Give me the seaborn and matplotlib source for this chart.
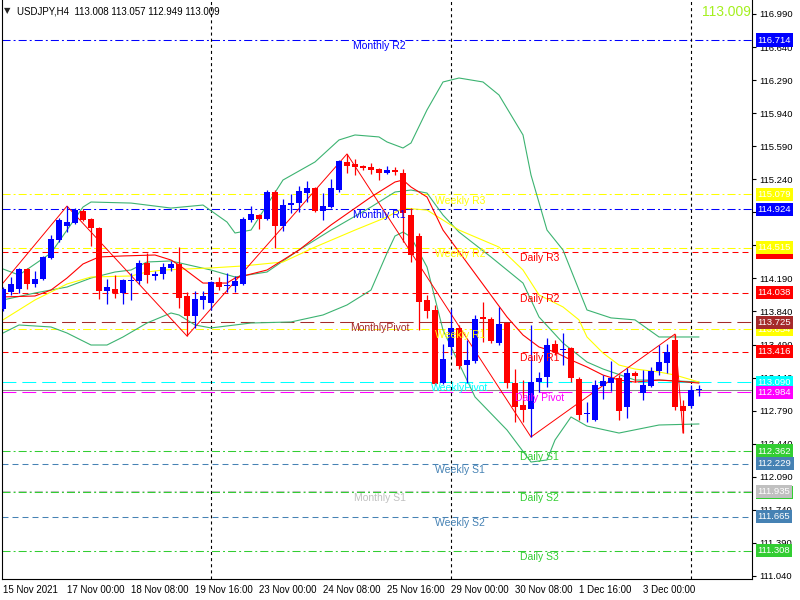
import matplotlib
matplotlib.use("Agg")
import matplotlib.pyplot as plt
import matplotlib.transforms as mtransforms
import numpy as np
import pandas as pd
import seaborn as sns

# ---------------- data ----------------
opens = [113.867,114.046,114.078,114.290,114.131,114.184,114.406,114.596,114.745,114.776,
         114.904,114.819,114.724,114.057,114.078,114.036,114.163,114.163,114.353,114.216,
         114.237,114.301,114.343,114.004,113.793,113.962,113.930,114.152,114.110,114.110,
         114.131,114.808,114.861,114.819,115.105,114.745,114.967,114.988,115.094,115.147,
         114.904,114.946,115.126,115.423,115.402,115.380,115.370,115.349,115.306,115.338,
         115.306,114.861,114.639,113.962,113.856,113.082,113.464,113.666,113.273,113.315,
         113.782,113.761,113.506,113.718,113.082,112.850,112.808,113.093,113.146,113.496,
         113.432,113.453,113.125,112.755,112.691,113.051,113.082,113.135,112.829,113.188,
         112.977,113.051,113.209,113.294,113.538,112.840,112.840,113.008]
highs = [114.099,114.205,114.301,114.301,114.269,114.428,114.649,114.829,114.956,114.935,
         114.925,114.829,114.734,114.184,114.226,114.184,114.248,114.385,114.459,114.269,
         114.353,114.375,114.522,114.046,114.057,114.057,114.163,114.205,114.248,114.216,
         114.840,114.956,114.872,115.126,115.126,115.031,115.084,115.168,115.221,115.158,
         115.094,115.242,115.444,115.508,115.455,115.391,115.412,115.359,115.380,115.370,
         115.349,114.935,114.671,114.015,113.909,113.496,113.867,113.697,113.538,113.803,
         113.941,113.782,113.888,113.729,113.231,113.114,113.697,113.199,113.559,113.538,
         113.612,113.464,113.146,112.882,113.114,113.167,113.315,113.167,113.241,113.209,
         113.220,113.252,113.485,113.496,113.601,112.903,113.061,113.057]
lows = [113.846,114.015,114.036,114.078,114.099,114.173,114.396,114.575,114.681,114.766,
        114.798,114.533,113.972,113.920,113.983,113.920,113.962,114.131,114.141,114.173,
        114.184,114.269,113.877,113.580,113.666,113.867,113.856,114.067,114.046,114.046,
        114.120,114.787,114.713,114.808,114.512,114.692,114.882,114.893,114.999,114.893,
        114.808,114.935,115.105,115.306,115.285,115.338,115.296,115.232,115.296,115.285,
        114.575,114.364,113.644,113.772,113.061,113.072,113.379,113.231,113.082,113.294,
        113.517,113.506,113.485,113.030,112.670,112.670,112.511,112.988,113.040,113.379,
        113.273,113.093,112.691,112.670,112.681,112.914,112.999,112.691,112.712,113.093,
        112.903,113.040,113.167,113.188,112.797,112.553,112.818,112.949]
closes = [114.078,114.131,114.290,114.131,114.184,114.417,114.607,114.808,114.787,114.914,
          114.808,114.724,114.057,114.099,114.036,114.173,114.173,114.353,114.226,114.237,
          114.311,114.343,113.983,113.793,113.972,114.004,114.152,114.099,114.120,114.163,
          114.819,114.872,114.819,115.105,114.745,114.967,114.988,115.115,115.147,114.904,
          114.956,115.147,115.434,115.380,115.370,115.359,115.338,115.306,115.338,115.317,
          114.882,114.438,113.941,113.846,113.072,113.337,113.666,113.263,113.326,113.761,
          113.761,113.527,113.708,113.082,112.829,112.797,113.093,113.135,113.485,113.411,
          113.443,113.135,112.744,112.765,113.061,113.104,113.135,112.787,113.188,113.157,
          113.061,113.209,113.305,113.411,112.829,112.787,113.009,113.009]

# Bollinger bands (at bar indices)
bb_up_bars = [0,2,6,8,10,11,16,21,25,28,29,31,33,35,39,42,44,47,48,50,51,53,55,57,60,62,65,66,68,70,72,73,76,79,82,87]
bb_up_vals = [114.290,114.226,114.459,114.702,114.946,114.999,114.988,114.935,114.967,114.787,114.671,114.702,
              114.967,115.232,115.423,115.656,115.709,115.688,115.635,115.571,115.624,115.974,116.270,116.312,
              116.270,116.132,115.709,115.285,114.702,114.491,114.067,113.856,113.772,113.751,113.570,113.570]
bb_mid_bars = [0,4,8,11,14,16,18,21,26,29,33,37,41,46,49,51,53,55,57,61,65,67,70,73,75,79,82,87]
bb_mid_vals = [113.962,114.036,114.099,114.194,114.258,114.279,114.364,114.375,114.279,114.205,114.258,114.491,
               114.702,114.946,115.105,115.126,115.094,114.861,114.681,114.417,114.141,113.782,113.506,113.305,
               113.231,113.114,113.114,113.093]
bb_low_bars = [0,2,6,8,11,13,15,18,21,22,24,26,31,36,40,43,46,48,49,50,51,53,55,59,63,66,68,69,71,73,77,82,87]
bb_low_vals = [113.612,113.697,113.676,113.612,113.485,113.485,113.570,113.718,113.824,113.803,113.697,113.666,
               113.718,113.729,113.803,113.909,114.067,114.459,114.639,114.681,114.628,114.311,113.644,112.935,
               112.585,112.246,112.268,112.479,112.723,112.627,112.553,112.638,112.649]
# Moving averages
ma_red_bars = [0,4,6,8,10,12,15,19,21,22,25,28,29,33,37,41,46,49,50,51,53,55,63,65,67,69,71,73,75,77,79,82,84,87]
ma_red_vals = [113.994,114.004,114.067,114.194,114.343,114.417,114.428,114.438,114.385,114.332,114.141,114.141,
               114.194,114.279,114.491,114.756,115.052,115.211,115.232,115.158,115.052,114.702,113.782,113.591,
               113.464,113.411,113.326,113.252,113.167,113.114,113.093,113.114,113.104,113.082]
ma_yel_bars = [0,4,8,11,16,18,20,26,30,35,39,44,48,50,53,57,62,65,67,70,72,73,75,77,79,82,84,87]
ma_yel_vals = [113.751,113.962,114.131,114.205,114.216,114.258,114.279,114.301,114.322,114.364,114.522,114.702,
               114.840,114.935,114.914,114.702,114.522,114.279,114.015,113.888,113.751,113.570,113.400,113.273,
               113.231,113.199,113.167,113.093]
# ZigZag
zz_bars = [0, 8, 23, 43, 66, 84, 85]
zz_vals = [114.141, 114.956, 113.580, 115.508, 112.511, 113.601, 112.553]

# Pivot levels
level_names = ['Monthly R2','Weekly R3','Monthly R1','Weekly R2','Daily R3','Daily R2','MonthlyPivot',
               'Weekly R1','Daily R1','WeeklyPivot','Daily Pivot','Daily S1','Weekly S1','Monthly S1',
               'Daily S2','Weekly S2','Daily S3']
level_values = [116.714,115.079,114.924,114.515,114.470,114.038,113.725,113.654,113.416,113.090,
                112.984,112.362,112.229,111.935,111.925,111.665,111.308]
level_colors = ['#0000FF','#FFFF00','#0000FF','#FFFF00','#FF0000','#FF0000','#A52A2A','#FFFF00','#FF0000',
                '#00FFFF','#FF00FF','#32CD32','#4682B4','#C0C0C0','#32CD32','#4682B4','#32CD32']

y_ticks = [116.990,116.640,116.290,115.940,115.590,115.240,114.890,114.540,114.190,113.840,
           113.490,113.140,112.790,112.440,112.090,111.740,111.390,111.040]
x_tick_bars = [0,8,16,24,32,40,48,56,64,72,80]
x_tick_labels = ['15 Nov 2021','17 Nov 00:00','18 Nov 08:00','19 Nov 16:00','23 Nov 00:00','24 Nov 08:00',
                 '25 Nov 16:00','29 Nov 00:00','30 Nov 08:00','1 Dec 16:00','3 Dec 00:00']
separator_bars = [26, 56, 86]
title_text = 'USDJPY,H4  113.008 113.057 112.949 113.009'
bid_price = 113.009

# ---------------- style ----------------
sns.set_style("white")
plt.rcParams['font.family'] = ['Liberation Sans', 'DejaVu Sans']
plt.rcParams['lines.scale_dashes'] = False

fig = plt.figure(figsize=(8, 6), dpi=100)
ax = fig.add_axes([2/800, 21/600, 750/800, 579/600])
ax.set_facecolor('white')
ax.set_xlim(-0.125, 93.625)
ax.set_ylim(111.0075, 117.138)

dashdot = (0, (5.8, 2.2, 1.4, 2.2))
dashed = (0, (4.3, 2.9))
longdash = (0, (10, 4.3))
style_map = {'Monthly R2': dashdot, 'Monthly R1': dashdot, 'Monthly S1': dashdot, 'MonthlyPivot': longdash,
             'Weekly R3': dashdot, 'Weekly R2': dashdot, 'Weekly R1': dashdot, 'WeeklyPivot': longdash,
             'Weekly S1': dashed, 'Weekly S2': dashed,
             'Daily R3': dashed, 'Daily R2': dashed, 'Daily R1': dashed, 'Daily Pivot': longdash,
             'Daily S1': dashdot, 'Daily S2': dashdot, 'Daily S3': dashdot}

# level lines
line_order = [n for n in level_names if n != 'Daily S2'] + ['Daily S2']
for n in line_order:
    i = level_names.index(n)
    ax.axhline(level_values[i], color=level_colors[i], lw=0.75, ls=style_map[n], zorder=1)

# bid line
ax.axhline(bid_price, color='#8C8C8C', lw=0.75, zorder=1.2)

# separators
for b in separator_bars:
    ax.axvline(b, color='black', lw=0.8, ls=(0, (2.2, 2.2)), zorder=1.5)

# indicators with seaborn
def sline(bx, vals, color, lw=0.8, z=2):
    df = pd.DataFrame({'bar': bx, 'price': vals})
    sns.lineplot(data=df, x='bar', y='price', ax=ax, color=color, lw=lw, estimator=None,
                 sort=False, zorder=z)

sline(bb_up_bars, bb_up_vals, '#3CB371')
sline(bb_mid_bars, bb_mid_vals, '#3CB371')
sline(bb_low_bars, bb_low_vals, '#3CB371')
sline(ma_yel_bars, ma_yel_vals, '#FFFF00')
sline(ma_red_bars, ma_red_vals, '#FF0000')
sline(zz_bars, zz_vals, '#FF0000', lw=0.7)

# candles
idx = np.arange(len(opens))
o = np.array(opens); c = np.array(closes); h = np.array(highs); l = np.array(lows)
cols = np.where(c >= o, '#0000FF', '#FF0000')
ax.vlines(idx, l, h, colors=cols, lw=0.9, zorder=3)
bottoms = np.minimum(o, c)
heights = np.maximum(np.abs(c - o), 0.011)
ax.bar(idx, heights, bottom=bottoms, width=0.68, color=cols, edgecolor='none', zorder=3.5)

# level text labels inside chart
center_map = {'Monthly': 47.1, 'Weekly': 57.1, 'Daily': 67.1}
for n, v, col in zip(level_names, level_values, level_colors):
    key = 'Monthly' if n.startswith('Monthly') else ('Weekly' if n.startswith('Weekly') else 'Daily')
    ax.text(center_map[key], v - 0.012, n, color=col, fontsize=7.5, ha='center', va='top', zorder=4)

# axes styling
for s in ['left', 'right', 'bottom']:
    ax.spines[s].set_visible(True)
    ax.spines[s].set_color('black')
    ax.spines[s].set_linewidth(0.8)
ax.spines['top'].set_visible(False)
ax.yaxis.tick_right()
ax.set_yticks(y_ticks)
ax.set_yticklabels([f'{t:.3f}' for t in y_ticks])
ax.tick_params(axis='y', which='both', right=True, left=False, direction='out', length=3,
               width=0.8, pad=2.5, labelsize=6.8, colors='black')
ax.set_xticks(x_tick_bars)
ax.set_xticklabels(x_tick_labels, ha='left')
ax.tick_params(axis='x', direction='out', length=3, width=0.8, pad=1.5, labelsize=7, colors='black')
for lab in ax.get_xticklabels():
    lab.set_horizontalalignment('left')
ax.set_xlabel('')
ax.set_ylabel('')

# right axis value boxes
trans = mtransforms.blended_transform_factory(ax.transAxes, ax.transData)
box_order = ['Daily R3', 'Weekly R1', 'Daily S2'] + [n for n in level_names if n not in ('Daily R3', 'Weekly R1', 'Daily S2')]
for k, n in enumerate(box_order):
    i = level_names.index(n)
    ax.text(1.0075, level_values[i], f'{level_values[i]:.3f}', transform=trans, color='white',
            fontsize=6.8, ha='left', va='center', clip_on=False, zorder=10 + k,
            bbox=dict(boxstyle='square,pad=0.22', facecolor=level_colors[i], edgecolor='none'))

# title & current price
fig.text(4/800, 1 - 11/600, '\u25BC', fontsize=6, family=['DejaVu Sans'], va='center', ha='left')
fig.text(17/800, 1 - 11/600, title_text, fontsize=7, va='center', ha='left', color='black')
fig.text(751/800, 1 - 12/600, f'{bid_price:.3f}', fontsize=10, va='center', ha='right', color='#A4F01E')

fig.savefig('out.png', dpi=100)
